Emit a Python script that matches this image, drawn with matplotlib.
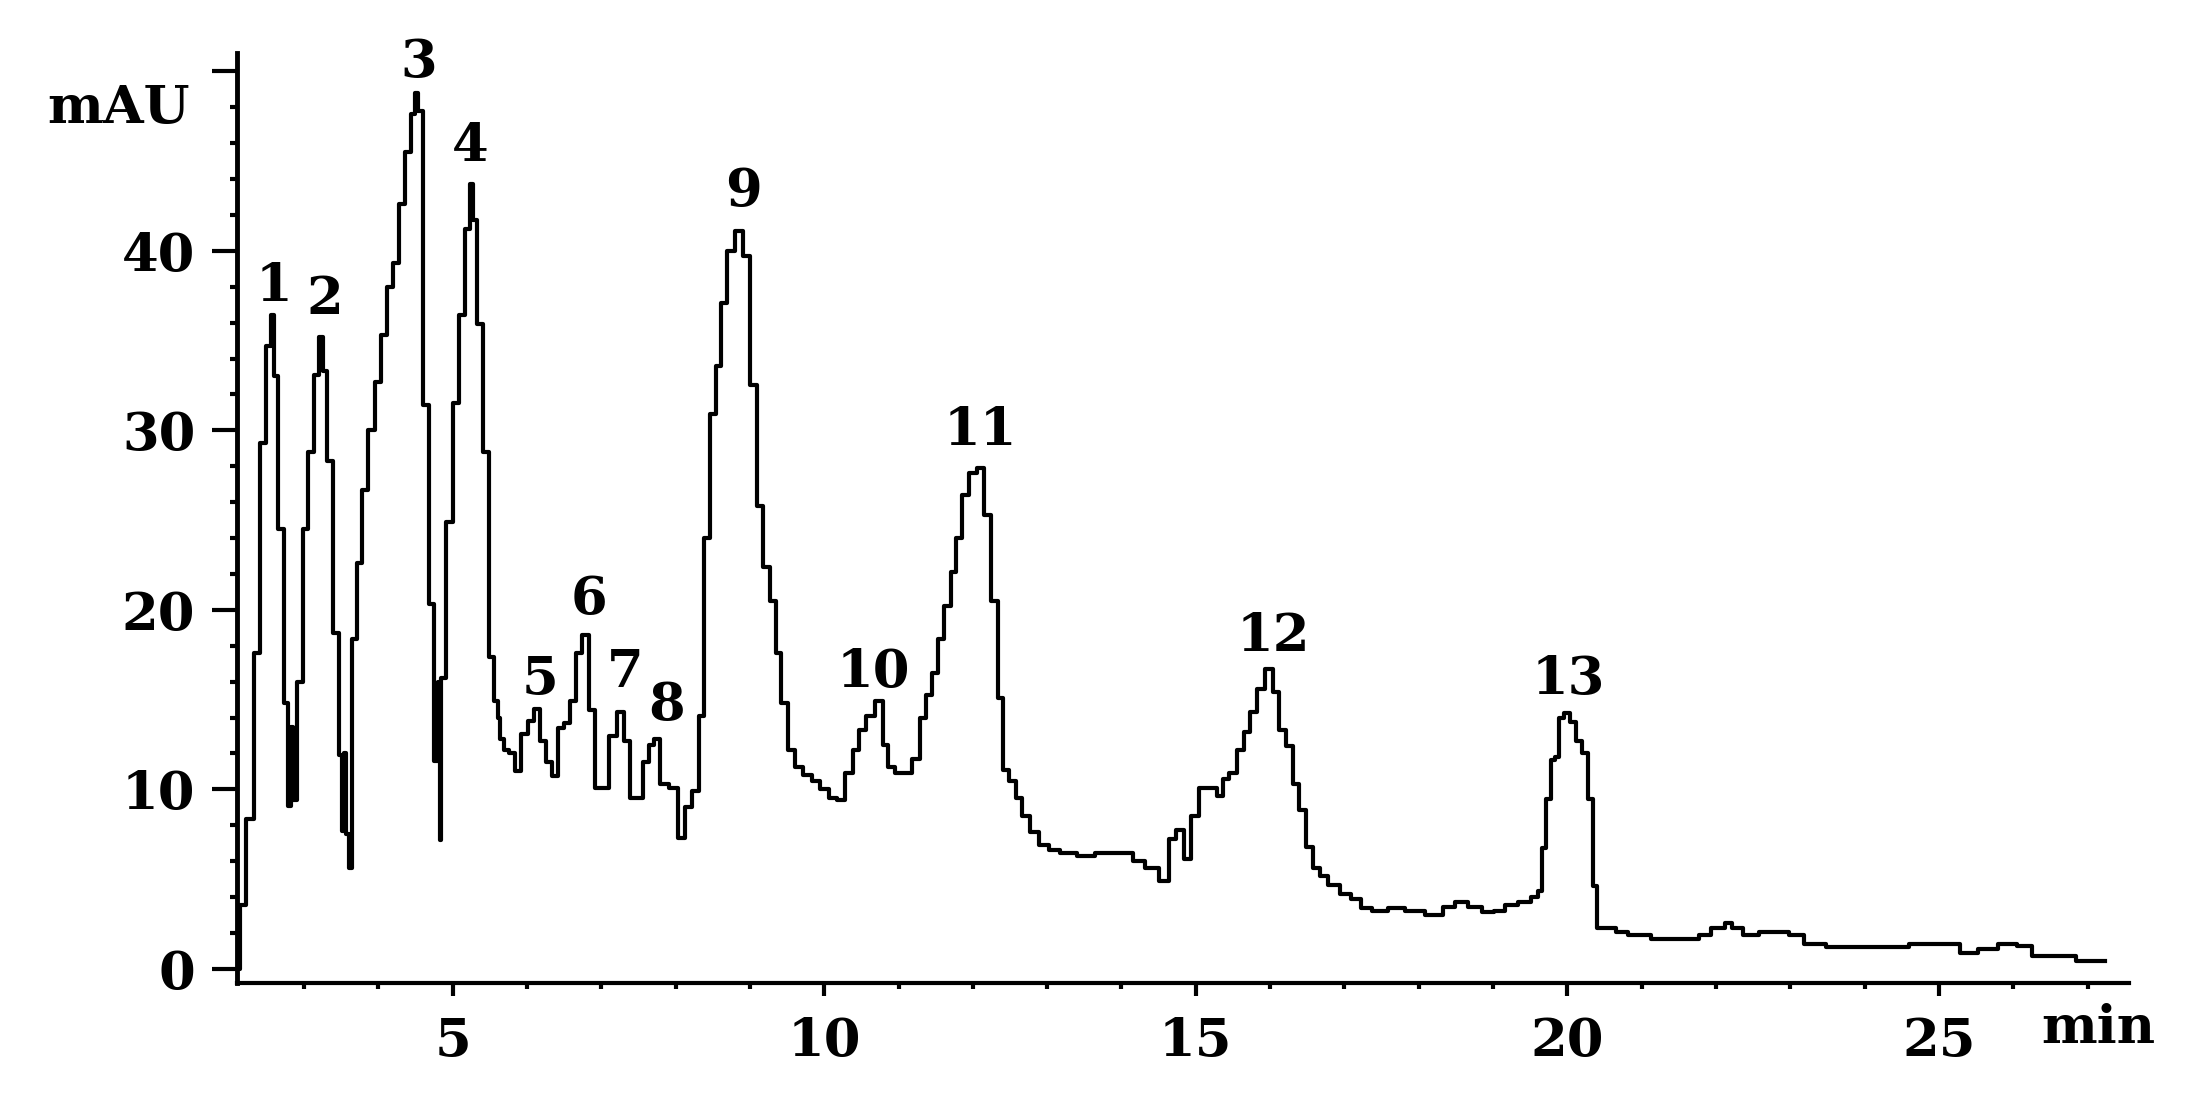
import matplotlib
matplotlib.use("Agg")
import matplotlib.pyplot as plt
from matplotlib.ticker import MultipleLocator

# retention time (min) and absorbance (mAU)
time_min = [2.10, 2.17, 2.28, 2.37, 2.45, 2.53, 2.58, 2.61, 2.69, 2.77,
            2.81, 2.84, 2.86, 2.94, 3.02, 3.10, 3.18, 3.23, 3.27, 3.35,
            3.43, 3.50, 3.53, 3.55, 3.58, 3.63, 3.67, 3.75, 3.82, 3.91,
            3.99, 4.07, 4.16, 4.24, 4.32, 4.41, 4.47, 4.52, 4.56, 4.64,
            4.72, 4.79, 4.82, 4.84, 4.86, 4.96, 5.04, 5.12, 5.20, 5.26,
            5.29, 5.36, 5.45, 5.52, 5.60, 5.62, 5.66, 5.72, 5.80, 5.88,
            5.97, 6.05, 6.13, 6.22, 6.30, 6.38, 6.46, 6.54, 6.62, 6.70,
            6.79, 6.87, 6.96, 7.06, 7.16, 7.26, 7.35, 7.42, 7.52, 7.60,
            7.68, 7.75, 7.83, 7.99, 8.08, 8.17, 8.27, 8.35, 8.42, 8.50,
            8.58, 8.65, 8.73, 8.86, 8.96, 9.04, 9.14, 9.22, 9.31, 9.39,
            9.46, 9.56, 9.65, 9.77, 9.89, 10.01, 10.13, 10.22, 10.34, 10.43,
            10.52, 10.61, 10.76, 10.82, 10.91, 11.00, 11.12, 11.24, 11.33, 11.42,
            11.48, 11.57, 11.66, 11.74, 11.81, 11.90, 11.99, 12.11, 12.20, 12.29,
            12.38, 12.44, 12.53, 12.62, 12.71, 12.83, 12.95, 13.10, 13.25, 13.55,
            13.73, 14.09, 14.21, 14.42, 14.60, 14.69, 14.78, 14.89, 14.99, 15.09,
            15.24, 15.33, 15.39, 15.51, 15.60, 15.69, 15.78, 15.87, 15.99, 16.08,
            16.17, 16.26, 16.35, 16.44, 16.53, 16.62, 16.71, 16.86, 17.01, 17.16,
            17.28, 17.46, 17.70, 17.94, 18.24, 18.42, 18.56, 18.76, 18.93, 19.10,
            19.23, 19.44, 19.57, 19.64, 19.69, 19.74, 19.81, 19.87, 19.91, 20.00,
            20.08, 20.15, 20.25, 20.31, 20.38, 20.42, 20.58, 20.72, 20.92, 21.33,
            21.73, 21.80, 22.07, 22.17, 22.27, 22.47, 22.68, 22.88, 23.08, 23.28,
            23.69, 24.56, 24.63, 25.17, 25.41, 25.64, 25.95, 26.15, 26.35, 26.83,
            26.86, 27.23]
signal_mau = [0.0, 3.55, 8.35, 17.6, 29.3, 34.7, 36.4, 33.0, 24.5, 14.8,
              9.1, 13.5, 9.4, 16.0, 24.5, 28.8, 33.1, 35.2, 33.3, 28.3,
              18.7, 11.9, 7.7, 12.0, 7.5, 5.6, 18.4, 22.6, 26.7, 30.0,
              32.7, 35.3, 38.0, 39.3, 42.6, 45.5, 47.6, 48.8, 47.8, 31.4,
              20.3, 11.6, 16.0, 7.2, 16.2, 24.9, 31.5, 36.4, 41.2, 43.7,
              41.7, 35.9, 28.8, 17.4, 14.9, 14.0, 12.8, 12.2, 12.0, 11.0,
              13.1, 13.8, 14.5, 12.7, 11.5, 10.75, 13.4, 13.7, 14.9, 17.6,
              18.6, 14.4, 10.1, 10.1, 13.0, 14.3, 12.7, 9.5, 9.5, 11.5,
              12.5, 12.8, 10.3, 10.1, 7.3, 9.0, 9.9, 14.1, 24.0, 30.9,
              33.6, 37.1, 40.0, 41.1, 39.7, 32.5, 25.8, 22.4, 20.5, 17.6,
              14.8, 12.2, 11.25, 10.8, 10.45, 10.0, 9.5, 9.4, 10.9, 12.2,
              13.3, 14.1, 14.9, 12.5, 11.25, 10.9, 10.9, 11.7, 14.0, 15.25,
              16.5, 18.4, 20.2, 22.1, 24.0, 26.4, 27.6, 27.9, 25.3, 20.5,
              15.1, 11.1, 10.45, 9.5, 8.5, 7.6, 6.9, 6.6, 6.45, 6.3,
              6.45, 6.45, 6.0, 5.65, 4.9, 7.25, 7.75, 6.1, 8.5, 10.1,
              10.1, 9.65, 10.6, 10.9, 12.2, 13.2, 14.3, 15.6, 16.7, 15.4,
              13.3, 12.4, 10.3, 8.85, 6.8, 5.65, 5.2, 4.7, 4.2, 3.9,
              3.4, 3.25, 3.4, 3.2, 3.0, 3.45, 3.74, 3.45, 3.15, 3.25,
              3.54, 3.74, 4.03, 4.33, 6.76, 9.49, 11.64, 11.83, 13.98, 14.27,
              13.78, 12.71, 12.03, 9.49, 4.62, 2.27, 2.27, 2.08, 1.88, 1.69,
              1.69, 1.88, 2.27, 2.57, 2.27, 1.88, 2.08, 2.08, 1.88, 1.40,
              1.2, 1.2, 1.40, 1.40, 0.91, 1.1, 1.40, 1.3, 0.72, 0.72,
              0.42, 0.42]

# peak numbers and where they sit
peak_labels = ["1", "2", "3", "4", "5", "6", "7", "8", "9", "10", "11", "12", "13"]
peak_t = [2.59, 3.28, 4.55, 5.24, 6.18, 6.83, 7.32, 7.88, 8.91, 10.66, 12.10, 16.05, 20.01]
peak_v = [38.0, 37.3, 50.5, 45.8, 16.1, 20.6, 16.5, 14.7, 43.3, 16.5, 30.0, 18.5, 16.1]

font = {"family": "DejaVu Serif", "weight": "bold", "size": 38}

fig = plt.figure(figsize=(21.86, 10.99), dpi=100)
ax = fig.add_axes([0.1084, 0.1056, 0.8656, 0.8464])

ax.plot(time_min, signal_mau, color="black", lw=3.0, drawstyle="steps-mid")

for lab, t, v in zip(peak_labels, peak_t, peak_v):
    ax.text(t, v, lab, ha="center", va="center", **font)

ax.set_xlim(2.098, 27.56)
ax.set_ylim(-0.78, 51.03)

ax.spines["top"].set_visible(False)
ax.spines["right"].set_visible(False)
ax.spines["left"].set_linewidth(3.5)
ax.spines["bottom"].set_linewidth(3.0)

ax.xaxis.set_major_locator(MultipleLocator(5))
ax.xaxis.set_minor_locator(MultipleLocator(1))
ax.yaxis.set_major_locator(MultipleLocator(10))
ax.yaxis.set_minor_locator(MultipleLocator(2))

ax.tick_params(axis="x", which="major", direction="out", length=9, width=3, pad=15)
ax.tick_params(axis="x", which="minor", direction="out", length=4, width=3)
ax.tick_params(axis="y", which="major", direction="out", length=18, width=3, pad=12)
ax.tick_params(axis="y", which="minor", direction="out", length=5, width=3)

ax.set_yticks([0, 10, 20, 30, 40, 50])
ax.set_yticklabels(["0", "10", "20", "30", "40", ""])
for lbl in ax.get_xticklabels() + ax.get_yticklabels():
    lbl.set_fontfamily("DejaVu Serif")
    lbl.set_fontweight("bold")
    lbl.set_fontsize(38)

fig.text(0.054, 0.901, "mAU", ha="center", va="center", **font)
fig.text(0.960, 0.064, "min", ha="center", va="center", **font)

fig.savefig("out.png", dpi=100)
